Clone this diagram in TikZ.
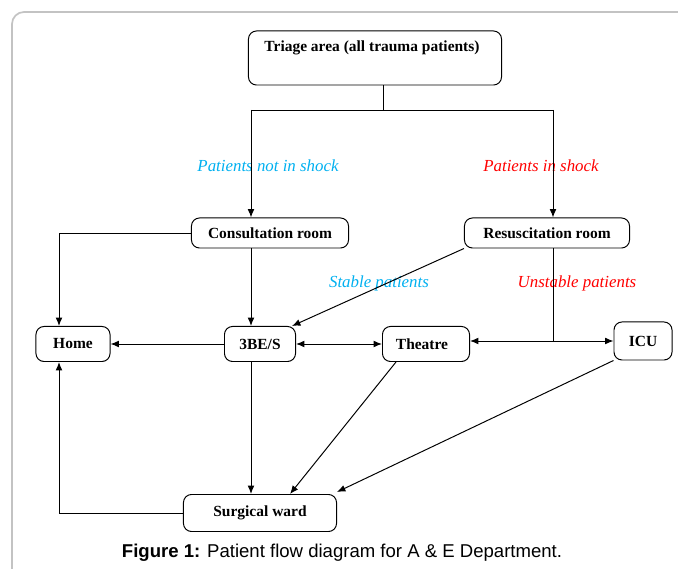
\documentclass[tikz,border=0pt]{standalone}
\usepackage{fontspec}
\setmainfont{Liberation Serif}
\newfontfamily\capfont{Liberation Sans}
\usetikzlibrary{positioning, arrows.meta}
\definecolor{stablecol}{RGB}{0,176,240}
\definecolor{shockcol}{RGB}{255,0,0}
\definecolor{framecol}{RGB}{195,195,195}

\begin{document}
\begin{tikzpicture}[> = {Latex[length=0.21cm, width=0.17cm]}, x=0.025cm, y=-0.025cm,
    line width=0.7pt,
    ward/.style={draw, rounded corners=0.2cm, font=\fontsize{11}{13}\selectfont\bfseries,
        inner sep=0pt},
    flowlabel/.style={font=\fontsize{12}{14}\selectfont\itshape}
]
    \clip (0,0) rectangle (678,569);
    \draw [framecol, line width=1.2pt, rounded corners=0.3cm] (12,700) -- (12,12) -- (700,12);

    % wards
    \node [ward, minimum width=6.325cm, minimum height=1.35cm,
        text height=0.4cm, text depth=0.7cm
    ] (triage) at (375,58) {\hspace*{-0.15cm}Triage area (all trauma patients)};

    \node [ward, minimum width=3.925cm, minimum height=0.75cm
    ] (consult) at (270,233) {Consultation room};

    \node [ward, minimum width=4.125cm, minimum height=0.75cm
    ] (resus) at (547,233) {Resuscitation room};

    \node [ward, minimum width=1.85cm, minimum height=0.875cm
    ] (home) at (73,344) {Home};

    \node [ward, minimum width=1.775cm, minimum height=0.875cm
    ] (bes) at (260,344) {3BE/S};

    \node [ward, minimum width=2.175cm, minimum height=0.875cm
    ] (theatre) at (426,344) {\hspace*{-0.2cm}Theatre};

    \node [ward, minimum width=1.45cm, minimum height=0.95cm
    ] (icu) at (643,341) {ICU};

    \node [ward, minimum width=3.825cm, minimum height=0.925cm
    ] (surg) at (260,513) {Surgical ward};

    % bends
    \coordinate (split) at (383,110);
    \coordinate (lbend) at (251,110);
    \coordinate (rbend) at (553,110);
    \coordinate (homecol) at (59,0);
    \coordinate (bescol) at (251,0);
    \coordinate (rdrop) at (553,341);

    % legendas
    \node [flowlabel, stablecol] (notshock) at (268,166) {Patients not in shock};
    \node [flowlabel, shockcol] (inshock) at (541,166) {Patients in shock};
    \node [flowlabel, stablecol] (stable) at (379,283) {Stable patients};
    \node [flowlabel, shockcol] (unstable) at (577,283) {Unstable patients};

    \node [font=\capfont\fontsize{13.2}{15}\selectfont] (caption) at (342,553)
        {\textbf{Figure 1:} Patient flow diagram for A \& E Department.};

    % arrows
    \draw (triage.south -| split) -- (split);
    \draw (lbend) -- (rbend);
    \draw [->] (lbend) -- (lbend |- consult.north);
    \draw [->] (rbend) -- (rbend |- resus.north);

    \draw [->] (consult.west) -| (homecol |- home.north);
    \draw [->] (consult.south -| bescol) -- (bescol |- bes.north);
    \draw [->] (resus.south west) -- ([xshift=-0.1cm]bes.north east);

    \draw [->] (bes.west) -- (home.east);
    \draw [<->] (bes.east) -- (theatre.west);
    \draw (resus.south -| rdrop) -- (rdrop);
    \draw [->] (rdrop) -- (rdrop -| theatre.east);
    \draw [->] (rdrop) -- (rdrop -| icu.west);

    \draw [->] (bes.south -| bescol) -- (bescol |- surg.north);
    \draw [->] ([xshift=0.35cm]theatre.south west) -- ([xshift=0.75cm]surg.north);
    \draw [->] (icu.south west) -- ([yshift=0.05cm]surg.north east);
    \draw [->] (surg.west) -| (homecol |- home.south);
\end{tikzpicture}
\end{document}
